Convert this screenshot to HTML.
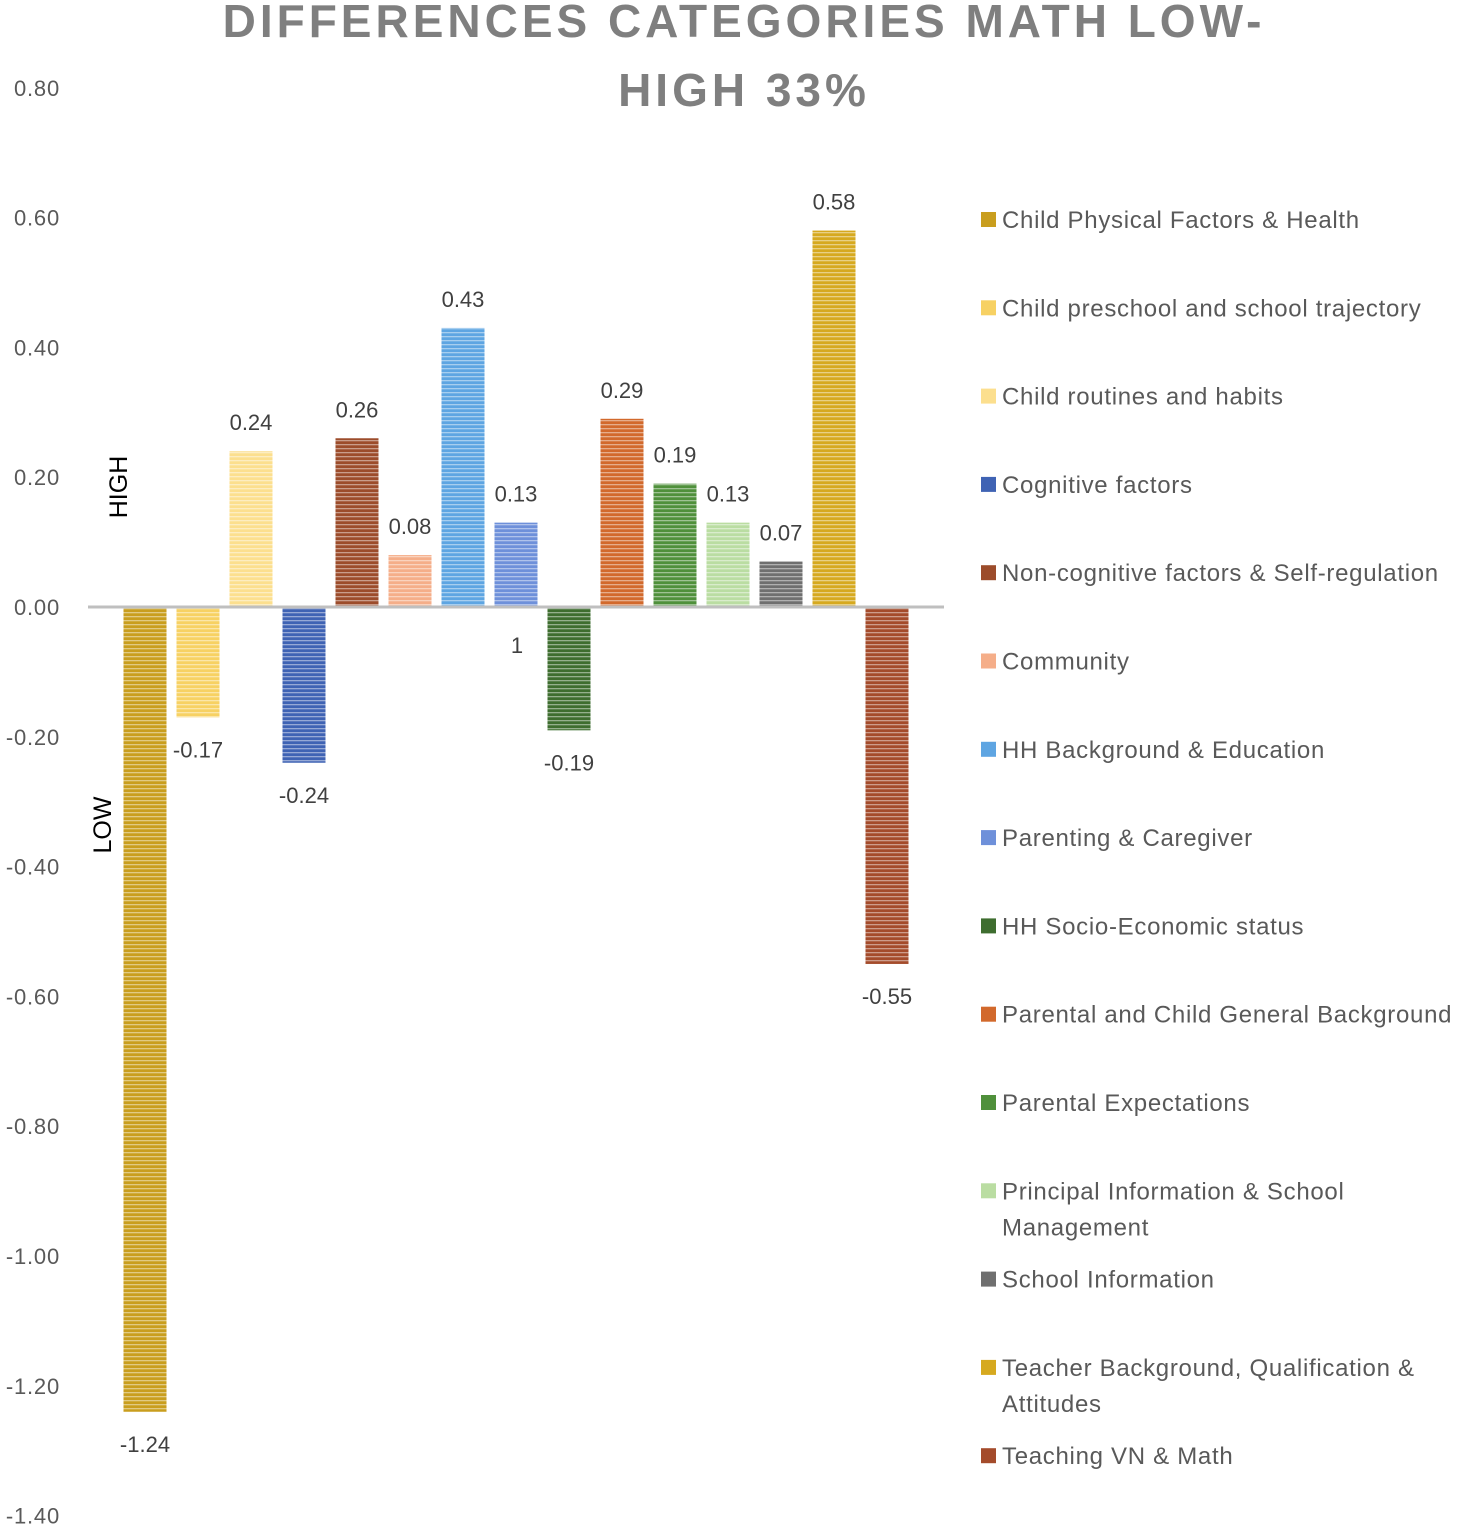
<!DOCTYPE html>
<html><head><meta charset="utf-8"><style>
body{margin:0;background:#fff;}
svg{display:block;font-family:"Liberation Sans",sans-serif;}
</style></head><body>
<svg id="chart" width="1463" height="1530" viewBox="0 0 1463 1530">
<defs>
<pattern id="stripes" width="4" height="4" patternUnits="userSpaceOnUse"><rect x="0" y="0" width="4" height="1.3" fill="#fff" opacity="0.45"/></pattern>
</defs>
<g fill="#7f7f7f" font-weight="bold" font-size="46" text-anchor="middle" letter-spacing="4">
<text x="744" y="37">DIFFERENCES CATEGORIES MATH LOW-</text>
<text x="744" y="106">HIGH 33%</text>
</g>
<g id="yaxis"></g>
<g id="bars"></g>
<line x1="88" y1="607" x2="944" y2="607" stroke="#bfbfbf" stroke-width="3"/>
<text transform="translate(127,487) rotate(-90)" text-anchor="middle" font-size="25" fill="#000">HIGH</text>
<text transform="translate(111,825) rotate(-90)" text-anchor="middle" font-size="25" fill="#000">LOW</text>
<text x="517" y="653" text-anchor="middle" font-size="22" fill="#404040">1</text>
<g id="legend"></g>
</svg>
<script>
const categories=["Child Physical Factors & Health","Child preschool and school trajectory","Child routines and habits","Cognitive factors","Non-cognitive factors & Self-regulation","Community","HH Background & Education","Parenting & Caregiver","HH Socio-Economic status","Parental and Child General Background","Parental Expectations","Principal Information & School Management","School Information","Teacher Background, Qualification & Attitudes","Teaching VN & Math"];
const values=[-1.24,-0.17,0.24,-0.24,0.26,0.08,0.43,0.13,-0.19,0.29,0.19,0.13,0.07,0.58,-0.55];
const colors=["#C99E1E","#F7D163","#FCDF8E","#3F63B4","#9C4C2B","#F5AE89","#5EA5E2","#6E90DA","#3E6D2F","#D2692C","#4F903B","#BADDA2","#6F6F6F","#D6A91F","#A44B2B"];
const ticks=[0.8,0.6,0.4,0.2,0,-0.2,-0.4,-0.6,-0.8,-1.0,-1.2,-1.4];
const legendLines=[["Child Physical Factors & Health"],["Child preschool and school trajectory"],["Child routines and habits"],["Cognitive factors"],["Non-cognitive factors & Self-regulation"],["Community"],["HH Background & Education"],["Parenting & Caregiver"],["HH Socio-Economic status"],["Parental and Child General Background"],["Parental Expectations"],["Principal Information & School","Management"],["School Information"],["Teacher Background, Qualification &","Attitudes"],["Teaching VN & Math"]];
const NS="http://www.w3.org/2000/svg";
const y=v=>607-v*649;
const x=i=>145+i*53;
const yax=document.getElementById('yaxis');
ticks.forEach(t=>{
 const e=document.createElementNS(NS,'text');
 
 
 e.setAttribute('x',60);e.setAttribute('y',y(t)+8);e.setAttribute('text-anchor','end');
 e.setAttribute('font-size','22');e.setAttribute('fill','#595959');e.setAttribute('letter-spacing','0.8');
 e.textContent=t.toFixed(2);yax.appendChild(e);
});
const bars=document.getElementById('bars');
values.forEach((v,i)=>{
 const top=Math.min(y(v),y(0)),h=Math.abs(y(v)-y(0));
 const r=document.createElementNS(NS,'rect');
 
 
 r.setAttribute('x',x(i)-21.5);r.setAttribute('y',top);r.setAttribute('width',43);r.setAttribute('height',h);
 r.setAttribute('fill',colors[i]);bars.appendChild(r);
 const s=document.createElementNS(NS,'rect');
 
 
 s.setAttribute('x',x(i)-21.5);s.setAttribute('y',top);s.setAttribute('width',43);s.setAttribute('height',h);
 s.setAttribute('fill','url(#stripes)');bars.appendChild(s);
 const l=document.createElementNS(NS,'text');
 
 
 l.setAttribute('x',x(i));l.setAttribute('y',v>=0?y(v)-21:y(v)+40);
 l.setAttribute('text-anchor','middle');l.setAttribute('font-size','22');l.setAttribute('fill','#404040');
 l.textContent=v.toFixed(2);bars.appendChild(l);
});
const lg=document.getElementById('legend');
legendLines.forEach((lines,i)=>{
 const cy=219+i*88.3;
 const sq=document.createElementNS(NS,'rect');
 
 
 sq.setAttribute('x',981);sq.setAttribute('y',cy-7);sq.setAttribute('width',15);sq.setAttribute('height',15);
 sq.setAttribute('fill',colors[i]);lg.appendChild(sq);
 lines.forEach((ln,j)=>{
  const t=document.createElementNS(NS,'text');
  
  
  t.setAttribute('x',1002);t.setAttribute('y',cy+9+j*36);
  t.setAttribute('font-size','24');t.setAttribute('fill','#595959');t.setAttribute('letter-spacing','0.7');
  t.textContent=ln;lg.appendChild(t);
 });
});
</script>
</body></html>
